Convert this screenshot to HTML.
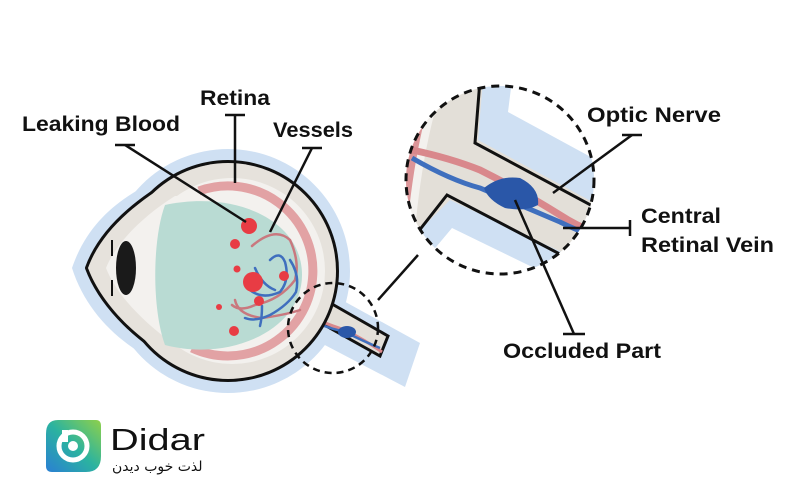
<!DOCTYPE html>
<html><head><meta charset="utf-8"><style>
html,body{margin:0;padding:0;background:#fff;}
svg{display:block}
text{font-family:"Liberation Sans",sans-serif;font-weight:bold;fill:#111}
</style></head><body>
<svg width="800" height="500" viewBox="0 0 800 500" xmlns="http://www.w3.org/2000/svg">
<defs>
<clipPath id="big"><circle cx="500" cy="180" r="94"/></clipPath>
</defs>
<!-- halo -->
<g fill="#cfe0f3">
<circle cx="228" cy="271" r="122"/>
<path d="M72 268 C90 215 130 190 180 170 L190 375 C140 360 90 325 72 268Z"/>
<path d="M320 288 L420 343 L405 387 L300 332Z"/>
</g>
<!-- nerve -->
<path d="M318 296 L388 336 L380 356 L312 318Z" fill="#e3dfd8" stroke="#111" stroke-width="3"/>
<path d="M300 312 Q320 322 345 330 Q365 340 382 352" fill="none" stroke="#d9888c" stroke-width="3"/>
<path d="M300 316 Q320 326 345 332 Q365 342 380 348" fill="none" stroke="#3f6fbe" stroke-width="2.5"/>
<ellipse cx="347" cy="332" rx="9" ry="6" fill="#2a57a8"/>
<!-- eye outline (union trick) -->
<path d="M178 178 C130 205 100 235 88 268 C100 300 130 335 178 362 Z" fill="#111" stroke="#111" stroke-width="6" stroke-linejoin="round"/>
<circle cx="228" cy="271" r="108" fill="#111" stroke="#111" stroke-width="6"/>
<path d="M178 178 C130 205 100 235 88 268 C100 300 130 335 178 362 Z" fill="#e6e2dc"/>
<circle cx="228" cy="271" r="108" fill="#e6e2dc"/>
<!-- white inner -->
<circle cx="232" cy="271" r="93" fill="#f3f1ee"/>
<path d="M175 196 C140 218 115 245 106 268 C115 292 140 320 175 345 L200 345 L200 196Z" fill="#f3f1ee"/>
<path d="M199 191 A85 85 0 1 1 192 348" fill="none" stroke="#e2a2a4" stroke-width="9"/>
<ellipse cx="126" cy="268" rx="10" ry="27" fill="#1a1a1a"/>
<path d="M112 240 L112 256 M112 280 L112 296" stroke="#111" stroke-width="2"/>
<!-- teal -->
<path d="M165 205 C152 240 152 310 165 345 C230 362 302 330 302 275 C302 220 235 190 165 205Z" fill="#b9dbd3"/>
<!-- vessels -->
<g fill="none" stroke-width="2.5" stroke-linecap="round">
<path d="M252 246 Q275 226 290 240 Q300 262 295 280 Q280 300 255 305 Q240 312 232 305" stroke="#c9787e"/>
<path d="M235 300 Q238 315 262 318 Q285 315 300 310" stroke="#c9787e"/>
<path d="M270 260 Q280 250 285 262 Q290 280 280 292 Q262 300 250 290" stroke="#3f6fbe"/>
<path d="M255 268 Q262 285 275 290 M290 260 Q300 275 296 292 Q288 305 270 315 Q255 322 245 318 M262 306 Q262 318 260 326" stroke="#3f6fbe"/>
</g>
<g fill="#e83c44">
<circle cx="249" cy="226" r="8"/><circle cx="235" cy="244" r="5"/><circle cx="237" cy="269" r="3.5"/>
<circle cx="253" cy="282" r="10"/><circle cx="284" cy="276" r="5"/><circle cx="259" cy="301" r="5"/>
<circle cx="219" cy="307" r="3"/><circle cx="234" cy="331" r="5"/>
</g>
<!-- small dashed circle -->
<circle cx="333" cy="328" r="45" fill="none" stroke="#111" stroke-width="2.5" stroke-dasharray="7 5"/>
<!-- big magnified circle -->
<circle cx="500" cy="180" r="94" fill="#fff"/>
<g clip-path="url(#big)">
<rect x="400" y="80" width="200" height="200" fill="#e3dfd8"/>
<path d="M483 80 L478 140 L600 206 L600 80Z" fill="#cfe0f3"/>
<path d="M512 80 L508 112 L600 162 L600 80Z" fill="#fff"/>
<path d="M480 80 L475 143 L600 210" fill="none" stroke="#111" stroke-width="3"/>
<path d="M400 250 L450 200 L600 270 L400 290Z" fill="#cfe0f3"/>
<path d="M400 290 L452 228 L600 300 L600 300Z" fill="#fff"/>
<path d="M400 255 L447 195 L575 262" fill="none" stroke="#111" stroke-width="3"/>
<path d="M400 80 L440 80 Q418 140 410 220 L400 225Z" fill="#dc9598"/>
<path d="M440 80 Q420 140 412 220" fill="none" stroke="#f3f1ee" stroke-width="8"/>
<path d="M412 150 Q450 158 480 170 Q520 190 560 215 Q580 228 600 234" fill="none" stroke="#d9888c" stroke-width="7"/>
<path d="M412 158 Q450 180 480 188 Q520 205 560 222 Q580 232 600 238" fill="none" stroke="#3f6fbe" stroke-width="5"/>
<path d="M484 188 Q500 175 520 178 Q540 188 538 205 Q525 212 505 208 Q488 200 484 188Z" fill="#2a57a8"/>
</g>
<circle cx="500" cy="180" r="94" fill="none" stroke="#111" stroke-width="3" stroke-dasharray="8 6"/>
<!-- connectors -->
<g stroke="#111" stroke-width="2.5" fill="none">
<line x1="378" y1="300" x2="418" y2="255"/>
<line x1="115" y1="145" x2="135" y2="145"/><line x1="125" y1="145" x2="246" y2="222"/>
<line x1="225" y1="115" x2="245" y2="115"/><line x1="235" y1="115" x2="235" y2="183"/>
<line x1="302" y1="148" x2="322" y2="148"/><line x1="312" y1="148" x2="270" y2="232"/>
<line x1="622" y1="135" x2="642" y2="135"/><line x1="632" y1="135" x2="553" y2="193"/>
<line x1="630" y1="220" x2="630" y2="236"/><line x1="563" y1="228" x2="630" y2="228"/>
<line x1="563" y1="334" x2="585" y2="334"/><line x1="574" y1="334" x2="515" y2="200"/>
</g>
<!-- labels -->
<text x="22" y="131" font-size="21" textLength="158" lengthAdjust="spacingAndGlyphs">Leaking Blood</text>
<text x="200" y="105" font-size="21" textLength="70" lengthAdjust="spacingAndGlyphs">Retina</text>
<text x="273" y="137" font-size="21" textLength="80" lengthAdjust="spacingAndGlyphs">Vessels</text>
<text x="587" y="122" font-size="21" textLength="134" lengthAdjust="spacingAndGlyphs">Optic Nerve</text>
<text x="641" y="223" font-size="21" textLength="80" lengthAdjust="spacingAndGlyphs">Central</text>
<text x="641" y="252" font-size="21" textLength="133" lengthAdjust="spacingAndGlyphs">Retinal Vein</text>
<text x="503" y="358" font-size="21" textLength="158" lengthAdjust="spacingAndGlyphs">Occluded Part</text>
<!-- logo -->
<defs><linearGradient id="lg" x1="0" y1="1" x2="1" y2="0"><stop offset="0" stop-color="#2a7fd4"/><stop offset="0.5" stop-color="#2bb3a0"/><stop offset="1" stop-color="#8fd04a"/></linearGradient></defs>
<path d="M58 420 L96 420 Q101 420 101 426 L101 456 Q101 472 86 472 L52 472 Q46 472 46 466 L46 434 Q46 420 58 420Z" fill="url(#lg)"/>
<circle cx="73" cy="446" r="14" fill="none" stroke="#fff" stroke-width="5"/>
<circle cx="73" cy="446" r="5" fill="#fff"/>
<rect x="62" y="430" width="6" height="12" fill="#fff"/>
<text x="110" y="450" font-size="31" style="font-weight:normal" fill="#333" textLength="95" lengthAdjust="spacingAndGlyphs">Didar</text>
<text x="112" y="471" font-size="14" style="font-weight:normal;font-family:'DejaVu Sans',sans-serif" fill="#333">لذت خوب دیدن</text>
</svg>
</body></html>
